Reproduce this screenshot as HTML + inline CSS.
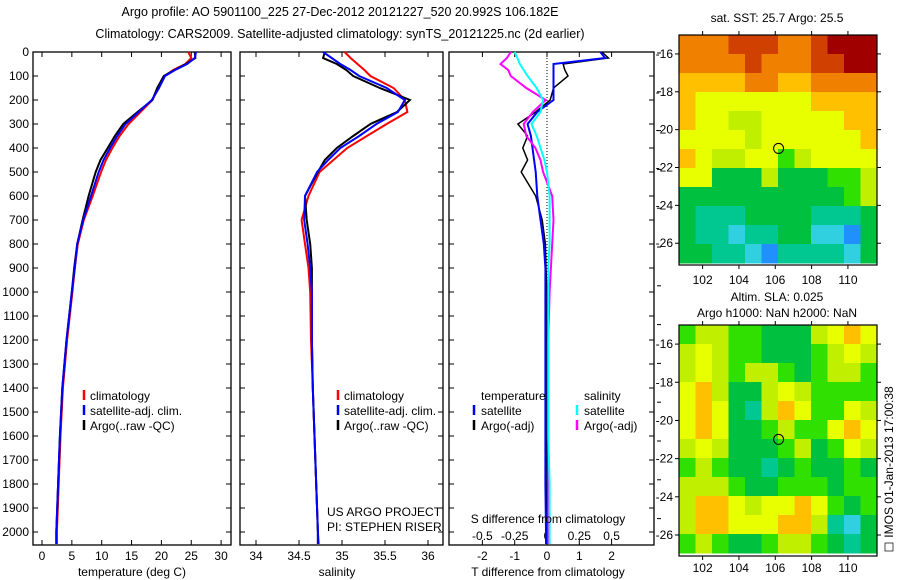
<!DOCTYPE html>
<html><head><meta charset="utf-8"><style>
body{margin:0;background:#fff}
svg{display:block;font-family:"Liberation Sans",sans-serif;font-size:12px}
</style></head><body>
<svg id="s" width="900" height="580" xmlns="http://www.w3.org/2000/svg">
<text x="340" y="16" text-anchor="middle" font-size="12.5">Argo profile: AO 5901100_225 27-Dec-2012 20121227_520 20.992S 106.182E</text>
<text x="340" y="38" text-anchor="middle" font-size="12.5">Climatology: CARS2009. Satellite-adjusted climatology: synTS_20121225.nc (2d earlier)</text>
<text x="777" y="22" text-anchor="middle">sat. SST: 25.7 Argo: 25.5</text>
<text x="777" y="301" text-anchor="middle">Altim. SLA: 0.025</text>
<text x="777" y="317" text-anchor="middle">Argo h1000: NaN h2000: NaN</text>
<text transform="translate(893,462) rotate(-90)" text-anchor="middle">IMOS 01-Jan-2013 17:00:38</text>
<rect x="885" y="543" width="8" height="8" fill="none" stroke="#000" stroke-width="0.7"/>
</svg>
<script>
// ---- profile data ----
const depths=[0,25,50,75,100,150,200,250,300,350,400,450,500,600,700,800,900,1000,1200,1400,1600,1800,2000,2050];
const tempClim=[24.5,25,24,22,20.5,19.5,18.5,16.5,14.5,13,11.8,10.7,9.9,8.5,7,6,5.5,5.1,4.2,3.5,3.1,2.8,2.5,2.5];
const tempSat=[25.8,25.6,24.3,22.3,20.6,19.6,18.4,16.2,14.0,12.6,11.4,10.3,9.5,8.2,6.9,5.9,5.5,5.0,4.1,3.4,3.0,2.7,2.4,2.4];
const tempArgo=[25.6,25.7,24.1,22.2,20.4,19.3,18.5,16.0,13.6,12.2,11.0,9.8,9.0,7.8,6.8,5.9,5.4,5.0,4.1,3.4,3.0,2.7,2.4,2.4];
const salClim=[35.03,35.1,35.18,35.26,35.33,35.6,35.73,35.76,35.52,35.29,35.06,34.9,34.74,34.61,34.53,34.57,34.61,34.63,34.64,34.66,34.68,34.7,34.72,34.73];
const salSat=[34.78,34.88,34.98,35.1,35.2,35.52,35.73,35.65,35.4,35.2,34.98,34.84,34.71,34.57,34.56,34.6,34.63,34.65,34.65,34.66,34.68,34.7,34.72,34.72];
const salArgo=[34.8,34.78,34.94,35.05,35.13,35.44,35.79,35.64,35.33,35.13,34.94,34.8,34.72,34.57,34.59,34.63,34.65,34.65,34.65,34.66,34.68,34.7,34.72,34.72];
const dTsat=[1.65,1.8,0.2,0.2,0.2,0.2,0.2,-0.3,-0.6,-0.5,-0.45,-0.4,-0.35,-0.3,-0.2,-0.1,-0.05,-0.05,-0.05,-0.05,-0.05,-0.05,-0.03,-0.03];
const dTargo=[1.7,1.9,0.5,0.55,0.65,0.2,0.1,-0.35,-0.9,-0.6,-0.75,-0.6,-0.8,-0.35,-0.15,-0.05,-0.03,0,0,0,0,0,0,0];
const dSsat=[-0.25,-0.23,-0.21,-0.18,-0.15,-0.08,-0.03,-0.05,-0.12,-0.08,-0.05,-0.02,0,0.02,0.02,0.02,0.01,0.01,0.01,0.01,0.01,0.02,0.02,0.02];
const dSargo=[-0.28,-0.31,-0.36,-0.3,-0.28,-0.16,-0.01,-0.11,-0.18,-0.16,-0.09,-0.05,-0.03,0.04,0.05,0.04,0.03,0.02,0.01,0.01,0.01,0.01,0.01,0.01];
const depthTicks=[0,100,200,300,400,500,600,700,800,900,1000,1100,1200,1300,1400,1500,1600,1700,1800,1900,2000];
const tempTicks=[0,5,10,15,20,25,30];
const salTicks=[34,34.5,35,35.5,36];
const dTTicks=[-2,-1,0,1,2];
const dSTickLabels=["-0.5","-0.25","0","0.25","0.5"];
const dSTicks=[-0.5,-0.25,0,0.25,0.5];
// ---- map data (cell values, colour index 0..10) ----
const sstGrid=[
[8,8,8,9,9,9,8,8,9,10,10,10],[8,8,8,8,9,8,8,8,9,9,10,10],[7,7,7,7,8,8,7,7,8,8,8,8],
[7,6,6,6,6,6,6,6,7,7,7,7],[7,6,6,5,5,6,6,6,6,6,7,7],[6,6,6,6,5,6,6,6,6,6,6,7],
[7,6,5,5,6,6,4,5,6,6,6,6],[6,6,3,3,3,5,3,3,3,4,4,5],[3,3,3,3,3,3,3,3,3,3,4,5],
[3,2,2,2,3,3,3,3,2,2,2,3],[3,2,2,1,2,2,3,3,1,1,0,3],[3,3,2,2,1,0,2,2,2,2,1,3]];
const slaGrid=[
[4,5,5,4,4,3,3,3,5,6,7,6],[5,6,5,4,4,3,3,3,4,5,6,5],[5,6,5,4,5,5,4,3,4,5,5,4],
[6,7,5,3,3,5,6,5,4,4,4,4],[6,7,6,3,2,5,7,6,4,4,6,5],[6,7,6,3,3,4,5,4,4,6,7,6],
[5,6,5,3,3,3,4,5,3,4,6,5],[4,5,4,3,3,2,3,4,3,3,4,3],[5,5,5,4,3,3,4,4,4,3,4,4],
[5,7,7,6,5,6,6,7,6,4,3,4],[5,7,7,6,6,6,7,7,5,2,1,3],[4,5,4,3,3,4,5,5,4,3,2,3]];
const lonTicks=[102,104,106,108,110];
const latTicks=[-16,-18,-20,-22,-24,-26];
const argoLon=106.182, argoLat=-20.992;
const cmap=["#2090ff","#30d0e0","#00c890","#00c040","#30e000","#c0f000","#e8ff00","#ffc000","#f08000","#d04000","#a00000"];

const S=document.getElementById('s'),NS="http://www.w3.org/2000/svg";
function mk(tag,at,parent){const e=document.createElementNS(NS,tag);for(const k in at)e.setAttribute(k,at[k]);(parent||S).appendChild(e);return e;}
const Y=d=>52+d*0.24;
const PT=545;
function panel(x0,x1,name){
  const r=mk('rect',{x:x0,y:52,width:x1-x0,height:PT-52,fill:'none',stroke:'#000','stroke-width':1.3});
  
  
  depthTicks.forEach(d=>{mk('line',{x1:x0,x2:x0+5,y1:Y(d),y2:Y(d),stroke:'#000'});mk('line',{x1:x1,x2:x1-5,y1:Y(d),y2:Y(d),stroke:'#000'});});
}
function xticks(x0,x1,fx,ticks,labels,ly){
  ticks.forEach((t,i)=>{const x=fx(t);
    mk('line',{x1:x,x2:x,y1:52,y2:57,stroke:'#000'});mk('line',{x1:x,x2:x,y1:PT,y2:PT-5,stroke:'#000'});
    if(labels){const e=mk('text',{x:x,y:ly,'text-anchor':'middle'});e.textContent=labels[i];
      
      }
  });
}
function line(vals,fx,color,name,w){
  const p=vals.map((v,i)=>fx(v).toFixed(1)+','+Y(depths[i]).toFixed(1)).join(' ');
  const e=mk('polyline',{points:p,fill:'none',stroke:color,'stroke-width':w||2});
  
  
}
function txt(x,y,s,name,anchor){const e=mk('text',{x:x,y:y,'text-anchor':anchor||'start'});e.textContent=s;
  
  return e;}
function legbar(x,y,c){mk('line',{x1:x,x2:x,y1:y-10,y2:y,stroke:c,'stroke-width':2.5});}

depthTicks.forEach(d=>{txt(29,Y(d)+4,String(d),'y-tick-label','end');});

// Panel 1 temperature
const fT=t=>42+t*5.97;
panel(33,231,'temperature-panel');
xticks(33,231,fT,tempTicks,tempTicks.map(String),560);
line(tempClim,fT,'#f00','temp-climatology-line');
line(tempArgo,fT,'#000','temp-argo-line');
line(tempSat,fT,'#00f','temp-satellite-line');
txt(132,576,'temperature (deg C)','temp-x-axis-title','middle');
[['climatology','#f00'],['satellite-adj. clim.','#00f'],['Argo(..raw -QC)','#000']].forEach((l,i)=>{legbar(84,400+i*15,l[1]);txt(90,400+i*15,l[0],'temp-legend-entry');});

// Panel 2 salinity
const fS=s=>256+(s-34)*86;
panel(240,443,'salinity-panel');
xticks(240,443,fS,salTicks,salTicks.map(String),560);
line(salClim,fS,'#f00','sal-climatology-line');
line(salArgo,fS,'#000','sal-argo-line');
line(salSat,fS,'#00f','sal-satellite-line');
txt(337,576,'salinity','sal-x-axis-title','middle');
[['climatology','#f00'],['satellite-adj. clim.','#00f'],['Argo(..raw -QC)','#000']].forEach((l,i)=>{legbar(338,400+i*15,l[1]);txt(344,400+i*15,l[0],'sal-legend-entry');});
txt(327,516,'US ARGO PROJECT','project-label');
txt(327,531,'PI: STEPHEN RISER','pi-label');

// Panel 3 differences
const fdT=t=>547+t*32.3, fdS=s=>547+s*129.2;
panel(449,654,'difference-panel');
xticks(449,654,fdT,dTTicks,dTTicks.map(String),560);
dSTicks.forEach((t,i)=>txt(fdS(t),540,dSTickLabels[i],'s-diff-tick-label','middle'));
for(let y=52;y<PT;y+=3)mk('line',{x1:547,x2:547,y1:y,y2:y+1,stroke:'#000','stroke-width':1});
line(dTargo,fdT,'#000','dT-argo-line',1.5);
line(dTsat,fdT,'#00f','dT-satellite-line',2);
line(dSargo,fdS,'#f0f','dS-argo-line',2);
line(dSsat,fdS,'#0ff','dS-satellite-line',2);
txt(548,523,'S difference from climatology','s-diff-axis-title','middle');
txt(548,576,'T difference from climatology','t-diff-axis-title','middle');
txt(481,400,'temperature','legend-temp-header');txt(584,400,'salinity','legend-sal-header');
legbar(474,415,'#00f');txt(481,415,'satellite','legend-temp-satellite');
legbar(474,430,'#000');txt(481,430,'Argo(-adj)','legend-temp-argo');
legbar(577,415,'#0ff');txt(584,415,'satellite','legend-sal-satellite');
legbar(577,430,'#f0f');txt(584,430,'Argo(-adj)','legend-sal-argo');
for(let y=53;y<PT;y+=38.8)mk('line',{x1:657,x2:661,y1:y,y2:y,stroke:'#000'});

// Maps
const LON0=100.7,LON1=111.6;
function map(grid,top,bot,latTop,latBot,name,labelY,dataBot){
  const fx=l=>679+(l-LON0)/(LON1-LON0)*198;
  const fy=l=>top+(latTop-l)/(latTop-latBot)*(bot-top);
  const rows=grid.length,cols=grid[0].length,cw=198/cols,ch=(dataBot-top)/rows;
  grid.forEach((row,r)=>row.forEach((v,c)=>{
    const e=mk('rect',{x:679+c*cw,y:top+r*ch,width:cw+0.5,height:ch+0.5,fill:cmap[v]});
    
    
  }));
  const fr=mk('rect',{x:679,y:top,width:198,height:bot-top,fill:'none',stroke:'#000','stroke-width':1.2});
  
  
  lonTicks.forEach(l=>{const x=fx(l);mk('line',{x1:x,x2:x,y1:top,y2:top-4,stroke:'#000'});mk('line',{x1:x,x2:x,y1:bot,y2:bot+4,stroke:'#000'});txt(x,labelY,String(l),'map-lon-label','middle');});
  latTicks.forEach(l=>{const y=fy(l);mk('line',{x1:679,x2:675,y1:y,y2:y,stroke:'#000'});mk('line',{x1:877,x2:881,y1:y,y2:y,stroke:'#000'});txt(673,y+4,String(l),'map-lat-label','end');});
  const c=mk('circle',{cx:fx(argoLon),cy:fy(argoLat),r:5,fill:'none',stroke:'#000','stroke-width':1});
  
  
}
map(sstGrid,35,265,-15.0,-27.15,'sst-map',284,263);
map(slaGrid,325,556,-15.0,-27.1,'sla-map',572,553);
</script>
</body></html>
